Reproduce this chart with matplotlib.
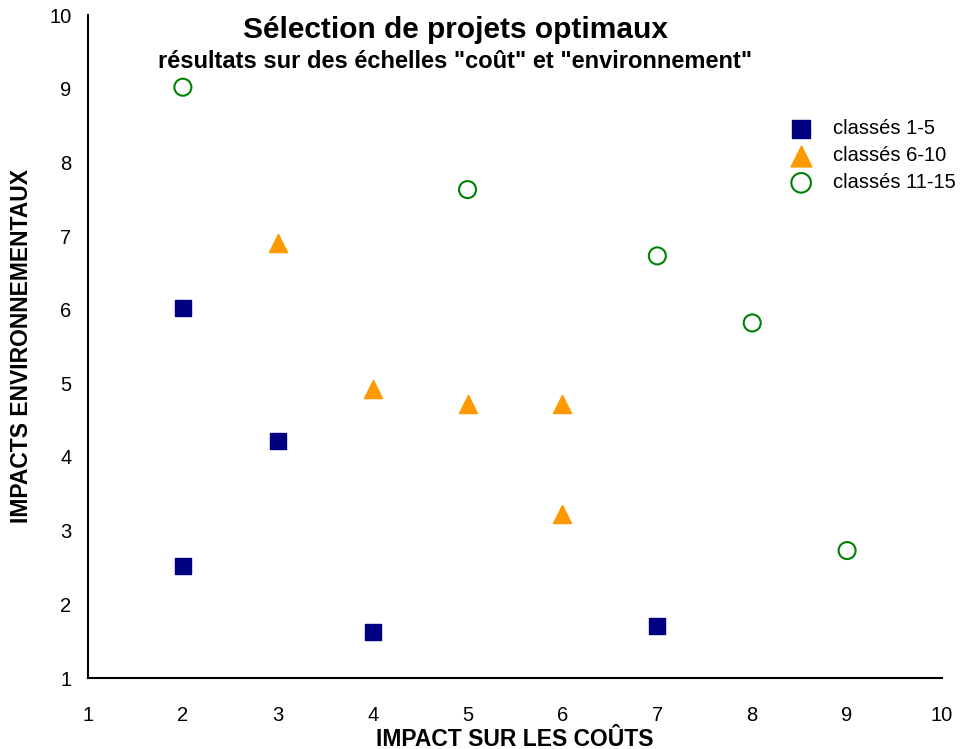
import matplotlib
matplotlib.use("Agg")
import matplotlib.pyplot as plt

plt.rcParams['font.family'] = ['Liberation Sans', 'DejaVu Sans']

sq_x = [2, 2, 3, 4, 7]
sq_y = [6.02, 2.52, 4.22, 1.62, 1.71]
tri_x = [3, 4, 5, 6, 6]
tri_y = [6.90, 4.92, 4.72, 4.72, 3.22]
cir_x = [2, 5, 7, 8, 9]
cir_y = [9.02, 7.63, 6.73, 5.82, 2.73]
labels = ["classés 1-5", "classés 6-10", "classés 11-15"]
ticks = list(range(1, 11))

fig = plt.figure(figsize=(9.64, 7.49), dpi=100)
ax = fig.add_axes([88/964, 1-678/749, (942-88)/964, (678-15)/749])

ax.scatter(sq_x, sq_y, marker='s', s=140, color='#000080', label=labels[0], zorder=3)
ax.scatter(tri_x, tri_y, marker='^', s=170, color='#FF9900', label=labels[1], zorder=3)
ax.scatter(cir_x, cir_y, marker='o', s=150, facecolors='none', edgecolors='#008000',
           linewidths=1.5, label=labels[2], zorder=3)

ax.set_xlim(1, 10)
ax.set_ylim(1, 10)
ax.set_xticks(ticks)
ax.set_yticks(ticks)
ax.tick_params(length=0, labelsize=14.5)
ax.tick_params(axis='x', pad=20)
ax.tick_params(axis='y', pad=12)
for s in ['top', 'right']:
    ax.spines[s].set_visible(False)
for s in ['left', 'bottom']:
    ax.spines[s].set_linewidth(1.5)

xl = ax.set_xlabel("IMPACT SUR LES COÛTS", fontsize=16.5, fontweight='bold')
ax.xaxis.set_label_coords(0.5, (678-739)/663)
xl.set_va('center')
yl = ax.set_ylabel("IMPACTS ENVIRONNEMENTAUX", fontsize=16.5, fontweight='bold')
ax.yaxis.set_label_coords((22-88)/854, (678-346)/663)
yl.set_va('center')

fig.text(0.472, 1-30/749, "Sélection de projets optimaux", ha='center', va='center',
         fontsize=21.5, fontweight='bold')
fig.text(0.472, 1-62/749, 'résultats sur des échelles "coût" et "environnement"', ha='center',
         va='center', fontsize=17, fontweight='bold')

leg = ax.legend(loc='upper left', bbox_to_anchor=((781-88)/854, 1-(119-15)/663),
                frameon=False, fontsize=14.5, handletextpad=0.6, labelspacing=0.4,
                borderaxespad=0, borderpad=0, markerscale=1.15)

fig.savefig("out.png", dpi=100)
